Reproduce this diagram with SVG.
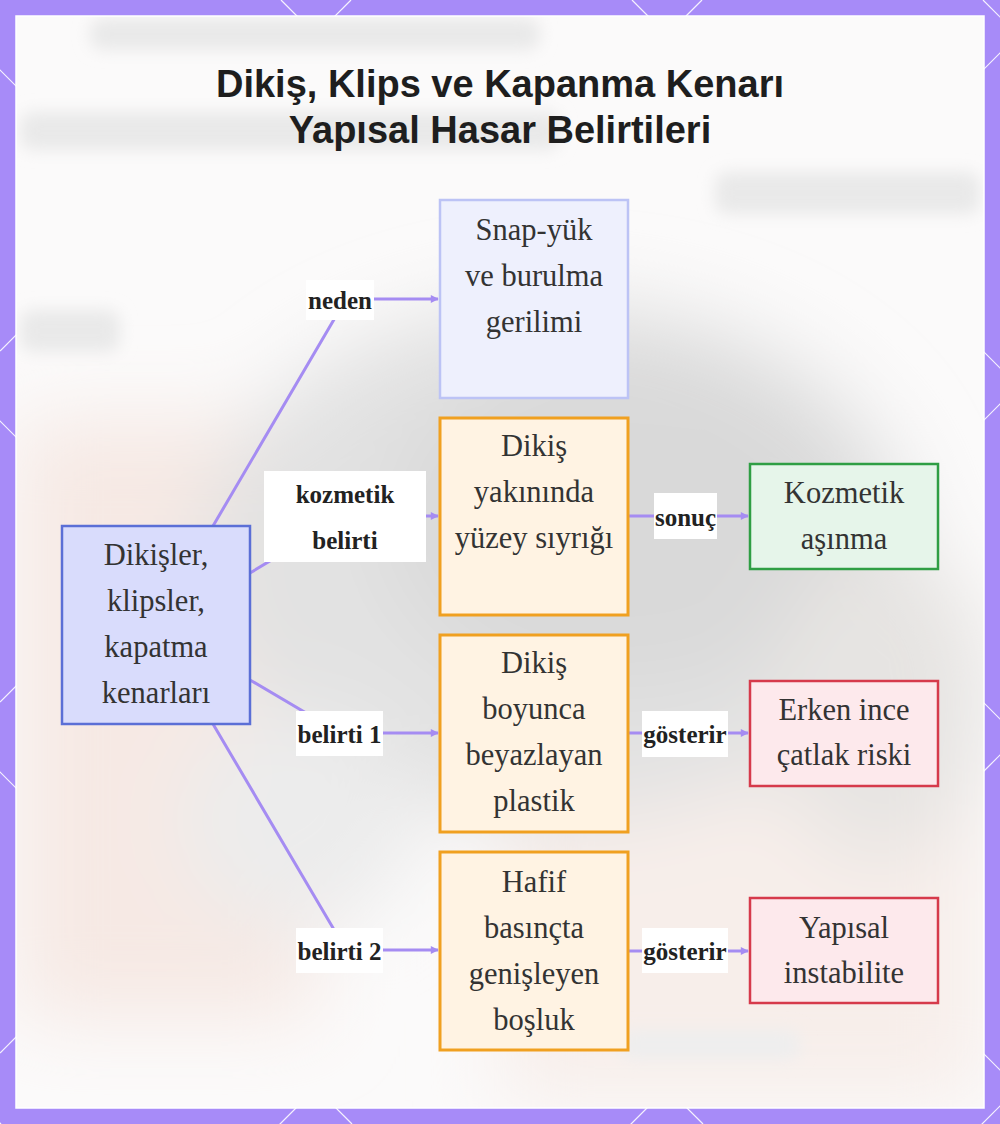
<svg xmlns="http://www.w3.org/2000/svg" width="1000" height="1124" viewBox="0 0 1000 1124">
<defs>
<style>
.frame-line{stroke:#ffffff;stroke-width:1.2;opacity:0.9}
.nt{font-family:"Liberation Serif","Times New Roman",serif;font-size:30.5px;fill:#333333;text-anchor:middle}
.lt{font-family:"Liberation Serif","Times New Roman",serif;font-size:25px;font-weight:bold;fill:#222222;text-anchor:middle}
.lb{fill:#ffffff}
.edge{fill:none;stroke:#a58cf2;stroke-width:3}
.title{font-family:"Liberation Sans",Arial,sans-serif;font-size:38px;font-weight:bold;fill:#1e1e1e;text-anchor:middle}
</style>
<marker id="arr" viewBox="0 0 10 10" refX="9" refY="5" markerWidth="9" markerHeight="8" markerUnits="userSpaceOnUse" orient="auto">
<path d="M0,0 L10,5 L0,10 z" fill="#a58cf2"/>
</marker>
<filter id="blur" x="-50%" y="-50%" width="200%" height="200%"><feGaussianBlur stdDeviation="40"/></filter>
<filter id="blur2" x="-20%" y="-50%" width="140%" height="200%"><feGaussianBlur stdDeviation="8"/></filter>
<clipPath id="inner"><rect x="16" y="16" width="968" height="1092"/></clipPath>
</defs>

<!-- frame -->
<rect x="0" y="0" width="1000" height="1124" fill="#a78bf8"/>
<g id="frame-pattern">
<line class="frame-line" x1="351" y1="0" x2="0" y2="351"/>
<line class="frame-line" x1="702" y1="0" x2="0" y2="702"/>
<line class="frame-line" x1="1053" y1="0" x2="0" y2="1053"/>
<line class="frame-line" x1="1404" y1="0" x2="0" y2="1404"/>
<line class="frame-line" x1="1755" y1="0" x2="0" y2="1755"/>
<line class="frame-line" x1="2106" y1="0" x2="0" y2="2106"/>
<line class="frame-line" x1="-1474" y1="0" x2="-350" y2="1124"/>
<line class="frame-line" x1="-1123" y1="0" x2="1" y2="1124"/>
<line class="frame-line" x1="-772" y1="0" x2="352" y2="1124"/>
<line class="frame-line" x1="-421" y1="0" x2="703" y2="1124"/>
<line class="frame-line" x1="-70" y1="0" x2="1054" y2="1124"/>
<line class="frame-line" x1="281" y1="0" x2="1405" y2="1124"/>
<line class="frame-line" x1="632" y1="0" x2="1756" y2="1124"/>
<line class="frame-line" x1="983" y1="0" x2="2107" y2="1124"/>
</g>

<!-- blurred background -->
<g clip-path="url(#inner)">
<rect x="16" y="16" width="968" height="1092" fill="#fbfafa"/>
<g filter="url(#blur)">
<rect x="16" y="420" width="300" height="600" fill="#f6e9e4"/>
<rect x="500" y="600" width="484" height="500" fill="#f7eeea"/>
<ellipse cx="560" cy="560" rx="360" ry="260" fill="#e2e2e2"/>
<ellipse cx="620" cy="520" rx="230" ry="170" fill="#d9d9d9"/>
<ellipse cx="880" cy="700" rx="110" ry="160" fill="#e6e4e2"/>
<ellipse cx="300" cy="820" rx="120" ry="110" fill="#ececec"/>
</g>
<g filter="url(#blur2)" fill="#e9e9e9">
<rect x="90" y="18" width="450" height="32" rx="12"/>
<rect x="20" y="112" width="540" height="38" rx="12"/>
<rect x="715" y="172" width="265" height="42" rx="12"/>
<rect x="20" y="310" width="100" height="42" rx="12"/>
<rect x="620" y="1030" width="180" height="30" rx="12" fill="#eeeeee"/>
</g>
</g>
<rect x="16" y="16" width="968" height="1092" fill="none" stroke="#ffffff" stroke-width="1.5"/>

<!-- title -->
<g id="title">
<text class="title" x="500" y="97">Dikiş, Klips ve Kapanma Kenarı</text>
<text class="title" x="500" y="143">Yapısal Hasar Belirtileri</text>
</g>

<!-- connectors -->
<g id="connectors">
<path class="edge" d="M213,526 L346,299 L438,299" marker-end="url(#arr)"/>
<path class="edge" d="M250,573 L345,516 L438,516" marker-end="url(#arr)"/>
<path class="edge" d="M250,680 L340,733 L438,733" marker-end="url(#arr)"/>
<path class="edge" d="M213,724 L346,950 L438,950" marker-end="url(#arr)"/>
<path class="edge" d="M628,516 L748,516" marker-end="url(#arr)"/>
<path class="edge" d="M628,733 L748,733" marker-end="url(#arr)"/>
<path class="edge" d="M628,951 L748,951" marker-end="url(#arr)"/>

<rect class="lb" x="306" y="280" width="68" height="40"/>
<text class="lt" x="340" y="309">neden</text>
<rect class="lb" x="264" y="471" width="162" height="91"/>
<text class="lt" x="345" y="503">kozmetik</text>
<text class="lt" x="345" y="549">belirti</text>
<rect class="lb" x="296" y="711" width="87" height="45"/>
<text class="lt" x="339.5" y="743">belirti 1</text>
<rect class="lb" x="296" y="928" width="87" height="45"/>
<text class="lt" x="339.5" y="960">belirti 2</text>
<rect class="lb" x="654" y="493" width="63" height="46"/>
<text class="lt" x="685.5" y="526">sonuç</text>
<rect class="lb" x="642" y="711" width="86" height="46"/>
<text class="lt" x="685" y="743">gösterir</text>
<rect class="lb" x="642" y="928" width="86" height="45"/>
<text class="lt" x="685" y="960">gösterir</text>
</g>

<!-- nodes -->
<g id="node-root">
<rect x="62" y="526" width="188" height="198" fill="#d9dcfc" stroke="#5b6fd6" stroke-width="2.5"/>
<text class="nt" x="156" y="565">Dikişler,</text>
<text class="nt" x="156" y="611">klipsler,</text>
<text class="nt" x="156" y="657">kapatma</text>
<text class="nt" x="156" y="703">kenarları</text>
</g>
<g id="node-snap">
<rect x="440" y="200" width="188" height="198" fill="#eef0fd" stroke="#bcc3f5" stroke-width="2.5"/>
<text class="nt" x="534" y="240">Snap-yük</text>
<text class="nt" x="534" y="286">ve burulma</text>
<text class="nt" x="534" y="332">gerilimi</text>
</g>
<g id="node-scuff">
<rect x="440" y="418" width="188" height="197" fill="#fff3e3" stroke="#f0a020" stroke-width="3"/>
<text class="nt" x="534" y="456">Dikiş</text>
<text class="nt" x="534" y="502">yakınında</text>
<text class="nt" x="534" y="548">yüzey sıyrığı</text>
</g>
<g id="node-whitening">
<rect x="440" y="635" width="188" height="197" fill="#fff3e3" stroke="#f0a020" stroke-width="3"/>
<text class="nt" x="534" y="673">Dikiş</text>
<text class="nt" x="534" y="719">boyunca</text>
<text class="nt" x="534" y="765">beyazlayan</text>
<text class="nt" x="534" y="811">plastik</text>
</g>
<g id="node-gap">
<rect x="440" y="852" width="188" height="198" fill="#fff3e3" stroke="#f0a020" stroke-width="3"/>
<text class="nt" x="534" y="892">Hafif</text>
<text class="nt" x="534" y="938">basınçta</text>
<text class="nt" x="534" y="984">genişleyen</text>
<text class="nt" x="534" y="1030">boşluk</text>
</g>
<g id="node-cosmetic">
<rect x="750" y="464" width="188" height="105" fill="#e6f5ea" stroke="#2f9e44" stroke-width="2.5"/>
<text class="nt" x="844" y="503">Kozmetik</text>
<text class="nt" x="844" y="549">aşınma</text>
</g>
<g id="node-crack">
<rect x="750" y="681" width="188" height="105" fill="#fde9ec" stroke="#d63a4b" stroke-width="2.5"/>
<text class="nt" x="844" y="720">Erken ince</text>
<text class="nt" x="844" y="765">çatlak riski</text>
</g>
<g id="node-instability">
<rect x="750" y="898" width="188" height="105" fill="#fde9ec" stroke="#d63a4b" stroke-width="2.5"/>
<text class="nt" x="844" y="938">Yapısal</text>
<text class="nt" x="844" y="983">instabilite</text>
</g>
</svg>
